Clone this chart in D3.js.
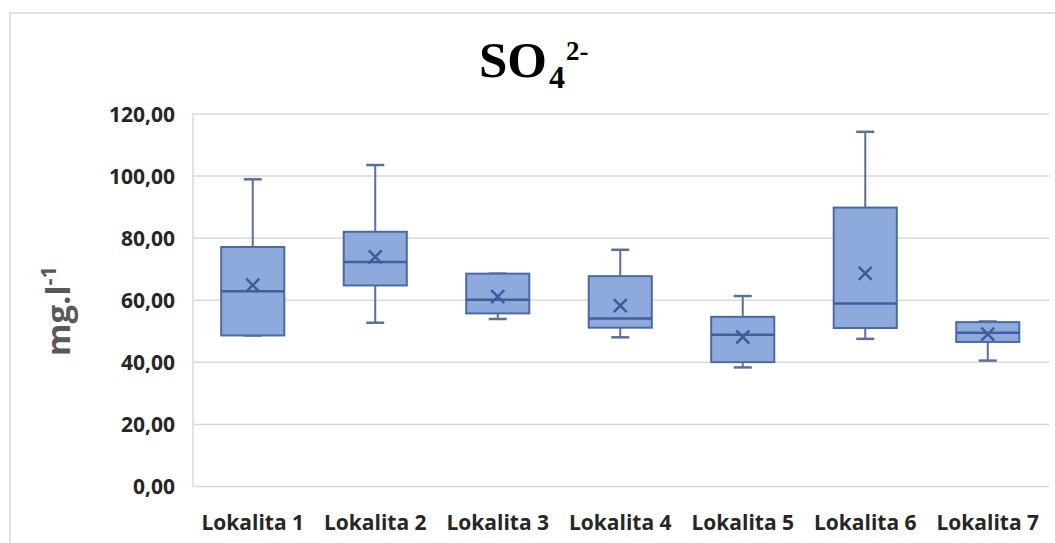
<!DOCTYPE html>
<html><head><meta charset="utf-8">
<script src="https://cdn.jsdelivr.net/npm/d3@7"></script>
<style>
html,body{margin:0;padding:0;background:#fff;}
svg{display:block;}
</style></head>
<body>
<svg id="chart" width="1055" height="543"></svg>
<script>
// ---- data ----
const categories = ["Lokalita 1","Lokalita 2","Lokalita 3","Lokalita 4","Lokalita 5","Lokalita 6","Lokalita 7"];
const whiskerMin = [48.5, 52.6, 53.8, 47.9, 38.2, 47.4, 40.4];
const q1         = [48.5, 64.6, 55.6, 51.0, 39.9, 50.9, 46.4];
const median     = [62.7, 72.2, 60.0, 54.0, 48.7, 58.8, 49.4];
const q3         = [77.0, 81.9, 68.4, 67.6, 54.5, 89.7, 52.8];
const whiskerMax = [98.8, 103.4, 68.4, 76.1, 61.2, 114.1, 53.0];
const meanVals   = [64.7, 73.8, 61.0, 58.1, 48.0, 68.5, 48.9];
const yTickValues = [0, 20, 40, 60, 80, 100, 120];

const rows = categories.map((c, i) => ({
  cat: c, min: whiskerMin[i], q1: q1[i], med: median[i], q3: q3[i], max: whiskerMax[i], mean: meanVals[i]
}));

// ---- layout ----
const svg = d3.select("#chart");
const plotLeft = 193, plotRight = 1049, plotTop = 113.5, plotBottom = 486;

// outer chart border
svg.append("rect").attr("x", 10).attr("y", 13).attr("width", 1060).attr("height", 560)
  .attr("fill", "#fff").attr("stroke", "#d9d9d9").attr("stroke-width", 1.5);

const x = d3.scaleBand().domain(categories).range([191.5, 1049]).padding(0);
const y = d3.scaleLinear().domain([0, 120]).range([plotBottom, plotTop]);

const locale = d3.formatLocale({decimal: ",", thousands: " ", grouping: [3], currency: ["", ""]});
const fmt = locale.format(".2f");

// y axis with gridlines
const yAxis = svg.append("g").attr("transform", `translate(${plotLeft},0)`)
  .call(d3.axisLeft(y).tickValues(yTickValues).tickFormat(fmt)
    .tickSize(-(plotRight - plotLeft)).tickPadding(18));
yAxis.select(".domain").remove();
yAxis.selectAll(".tick line").attr("stroke", "#d9d9d9").attr("stroke-width", 1.5);
yAxis.selectAll(".tick text")
  .attr("font-family", "'Open Sans', sans-serif").attr("font-weight", "bold")
  .attr("font-size", 21).attr("fill", "#262626").attr("dy", "0.38em");

// left plot border
svg.append("line").attr("x1", plotLeft).attr("x2", plotLeft)
  .attr("y1", y(120)).attr("y2", y(0)).attr("stroke", "#d9d9d9").attr("stroke-width", 1.5);

// x axis labels
const xAxis = svg.append("g").attr("transform", `translate(0,${plotBottom})`)
  .call(d3.axisBottom(x).tickSize(0));
xAxis.select(".domain").remove();
xAxis.selectAll(".tick text")
  .attr("font-family", "'Open Sans', sans-serif").attr("font-weight", "bold")
  .attr("font-size", 21).attr("fill", "#262626").attr("dy", null).attr("y", 44);

// boxes
const boxW = x.bandwidth() * 0.515;
const capW = 18;
const g = svg.append("g").selectAll("g").data(rows).join("g")
  .attr("transform", d => `translate(${x(d.cat) + x.bandwidth() / 2},0)`);

const whiskerColor = "#5d6f98";
g.append("line").attr("x1", 0).attr("x2", 0).attr("y1", d => y(d.max)).attr("y2", d => y(d.q3))
  .attr("stroke", whiskerColor).attr("stroke-width", 2);
g.append("line").attr("x1", 0).attr("x2", 0).attr("y1", d => y(d.q1)).attr("y2", d => y(d.min))
  .attr("stroke", whiskerColor).attr("stroke-width", 2);
g.append("line").attr("x1", -capW / 2).attr("x2", capW / 2).attr("y1", d => y(d.max)).attr("y2", d => y(d.max))
  .attr("stroke", whiskerColor).attr("stroke-width", 2.5);
g.append("line").attr("x1", -capW / 2).attr("x2", capW / 2).attr("y1", d => y(d.min)).attr("y2", d => y(d.min))
  .attr("stroke", whiskerColor).attr("stroke-width", 2.5);

g.append("rect").attr("x", -boxW / 2).attr("width", boxW)
  .attr("y", d => y(d.q3)).attr("height", d => y(d.q1) - y(d.q3))
  .attr("fill", "#8eaadc").attr("stroke", "#4c69a4").attr("stroke-width", 2);

g.append("line").attr("x1", -boxW / 2).attr("x2", boxW / 2)
  .attr("y1", d => y(d.med)).attr("y2", d => y(d.med))
  .attr("stroke", "#3f5f9e").attr("stroke-width", 2.5);

const ms = 6.5;
g.append("path")
  .attr("d", d => { const cy = y(d.mean); return `M${-ms},${cy - ms}L${ms},${cy + ms}M${-ms},${cy + ms}L${ms},${cy - ms}`; })
  .attr("stroke", "#3d5c9c").attr("stroke-width", 2.5).attr("fill", "none");

// title
const tFont = "'Liberation Serif', 'Times New Roman', serif";
svg.append("text").attr("x", 479).attr("y", 77).text("SO")
  .attr("font-family", tFont).attr("font-weight", "bold").attr("font-size", 51).attr("fill", "#000");
svg.append("text").attr("x", 549).attr("y", 88).text("4")
  .attr("font-family", tFont).attr("font-weight", "bold").attr("font-size", 32).attr("fill", "#000");
svg.append("text").attr("x", 566).attr("y", 60).text("2-")
  .attr("font-family", tFont).attr("font-weight", "bold").attr("font-size", 27).attr("fill", "#000");

// y axis title
const yt = svg.append("text").attr("transform", "translate(70,356) rotate(-90)")
  .attr("font-family", "'Open Sans', sans-serif").attr("font-weight", "bold")
  .attr("font-size", 33).attr("fill", "#595959");
yt.append("tspan").text("mg.l");
yt.append("tspan").text("-1").attr("font-size", 22).attr("dy", -14);
</script>
</body></html>
